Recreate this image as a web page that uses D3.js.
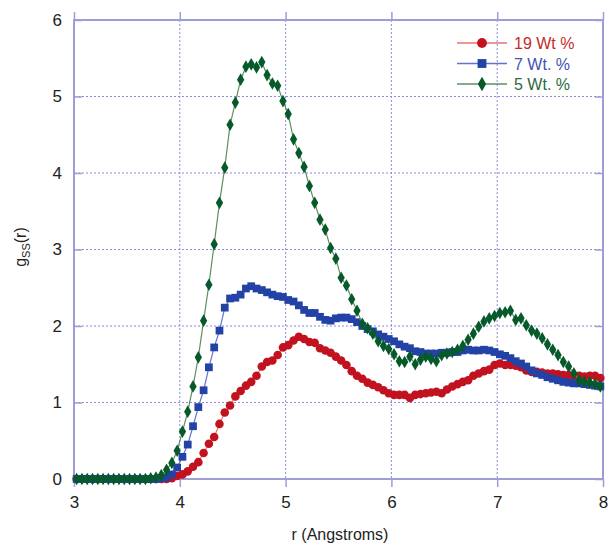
<!DOCTYPE html>
<html>
<head>
<meta charset="utf-8">
<script src="https://cdn.jsdelivr.net/npm/d3@7"></script>
<style>
  body { margin: 0; background: #fff; }
  svg { font-family: "Liberation Sans", Arial, sans-serif; }
</style>
</head>
<body>
<div id="chart"></div>
<script>
// r grid: bin centres, 0.05 A apart, from 3.025 to 7.975
const rValues = d3.range(100).map(i => +(3.025 + i * 0.05).toFixed(3));

const wt19 = [
    0, 0, 0, 0, 0, 0, 0, 0, 0, 0, 0, 0, 0, 0, 0, 0, 0, 0,
    0.01, 0.04, 0.06, 0.10, 0.16, 0.22, 0.34, 0.46, 0.55, 0.72,
    0.87, 0.96, 1.08, 1.15, 1.22, 1.27, 1.35, 1.47, 1.53, 1.55,
    1.62, 1.72, 1.75, 1.81, 1.86, 1.83, 1.79, 1.78, 1.71, 1.68,
    1.65, 1.60, 1.55, 1.49, 1.41, 1.35, 1.31, 1.26, 1.23, 1.20,
    1.16, 1.12, 1.10, 1.10, 1.10, 1.06, 1.10, 1.11, 1.12, 1.13,
    1.14, 1.12, 1.17, 1.21, 1.24, 1.27, 1.29, 1.35, 1.38, 1.41,
    1.43, 1.49, 1.51, 1.49, 1.49, 1.48, 1.46, 1.42, 1.40, 1.40,
    1.39, 1.38, 1.38, 1.37, 1.36, 1.36, 1.35, 1.35, 1.34, 1.35,
    1.35, 1.32
];

const wt7 = [
    0, 0, 0, 0, 0, 0, 0, 0, 0, 0, 0, 0, 0, 0, 0, 0,
    0.01, 0.02, 0.06, 0.15, 0.29, 0.45,
    0.69, 0.94, 1.16, 1.46, 1.72, 1.94, 2.24, 2.36, 2.37, 2.41,
    2.49, 2.52, 2.49, 2.47, 2.44, 2.41, 2.39, 2.38, 2.34, 2.32,
    2.27, 2.21, 2.17, 2.17, 2.12, 2.08, 2.07, 2.10, 2.11, 2.11,
    2.09, 2.05, 2.00, 1.96, 1.93, 1.89, 1.86, 1.83, 1.80, 1.76,
    1.73, 1.71, 1.67, 1.66, 1.64, 1.64, 1.64, 1.65, 1.65, 1.66,
    1.66, 1.68, 1.69, 1.68, 1.68, 1.69, 1.68, 1.66, 1.63, 1.61,
    1.58, 1.54, 1.51, 1.47, 1.42, 1.38, 1.36, 1.33, 1.31, 1.29,
    1.27, 1.26, 1.25, 1.25, 1.24, 1.23, 1.22, 1.21
];

const wt5 = [
    0, 0, 0, 0, 0, 0, 0, 0, 0, 0, 0, 0, 0, 0,
    0.01, 0.02,
    0.05, 0.12, 0.21, 0.37, 0.62, 0.88, 1.21, 1.59, 2.07, 2.54,
    3.07, 3.61, 4.07, 4.63, 4.92, 5.22, 5.39, 5.42, 5.38, 5.45,
    5.28, 5.17, 5.14, 4.94, 4.77, 4.44, 4.26, 4.08, 3.83, 3.61,
    3.39, 3.26, 3.02, 2.88, 2.63, 2.53, 2.35, 2.20, 2.03, 1.97,
    1.90, 1.80, 1.74, 1.70, 1.63, 1.54, 1.53, 1.60, 1.50, 1.56,
    1.60, 1.57, 1.54, 1.62, 1.64, 1.66, 1.69, 1.74, 1.82, 1.90,
    1.99, 2.06, 2.10, 2.13, 2.17, 2.18, 2.20, 2.08, 2.10, 2.01,
    1.94, 1.90, 1.84, 1.76, 1.69, 1.62, 1.53, 1.47, 1.38, 1.29,
    1.27, 1.26, 1.24, 1.21
];

const xTicks = [3, 4, 5, 6, 7, 8];
const yTicks = [0, 1, 2, 3, 4, 5, 6];

const series = [
    { name: "19 Wt %", values: wt19, marker: "#c2121f", line: "#e57373", text: "#c42a2a", symbol: d3.symbolCircle, size: 58 },
    { name: "7 Wt. %", values: wt7, marker: "#2342a6", line: "#6272cf", text: "#4352b0", symbol: d3.symbolSquare, size: 60 },
    { name: "5 Wt. %", values: wt5, marker: "#065a2a", line: "#5f8f62", text: "#2b6a3a", symbol: d3.symbolDiamond, size: 46 }
];

const W = 609, H = 544;
const margin = { top: 20, right: 6, bottom: 65, left: 74 };
const width = W - margin.left - margin.right;
const height = H - margin.top - margin.bottom;

const svg = d3.select('#chart').append('svg')
    .attr('width', W)
    .attr('height', H);

const g = svg.append('g')
    .attr('transform', `translate(${margin.left},${margin.top})`);

const x = d3.scaleLinear().domain([3, 8]).range([0, width]);
const y = d3.scaleLinear().domain([0, 6]).range([height, 0]);

const gridColor = "#8a8ade";
const axisColor = "#9d9dd8";

// dotted grid
g.selectAll('.vgrid')
    .data(xTicks.slice(1, -1))
    .enter().append('line')
    .attr('x1', d => x(d)).attr('x2', d => x(d))
    .attr('y1', 0).attr('y2', height)
    .attr('stroke', gridColor)
    .attr('stroke-width', 1)
    .attr('stroke-dasharray', '2,2');

g.selectAll('.hgrid')
    .data(yTicks.slice(1, -1))
    .enter().append('line')
    .attr('x1', 0).attr('x2', width)
    .attr('y1', d => y(d)).attr('y2', d => y(d))
    .attr('stroke', gridColor)
    .attr('stroke-width', 1)
    .attr('stroke-dasharray', '2,2');

// frame
g.append('rect')
    .attr('x', 0).attr('y', 0)
    .attr('width', width).attr('height', height)
    .attr('fill', 'none')
    .attr('stroke', axisColor)
    .attr('stroke-width', 2);

// ticks: x outward top and bottom, y inward left and right
const xAxisB = d3.axisBottom(x).tickValues(xTicks).tickSize(8).tickPadding(9).tickFormat(d3.format('d'));
const xAxisT = d3.axisTop(x).tickValues(xTicks).tickSize(8).tickFormat('');
const yAxisL = d3.axisLeft(y).tickValues(yTicks).tickSize(-8).tickPadding(12).tickFormat(d3.format('d'));
const yAxisR = d3.axisRight(y).tickValues(yTicks).tickSize(-8).tickFormat('');

function styleAxis(sel) {
    sel.select('.domain').remove();
    sel.selectAll('.tick line').attr('stroke', axisColor).attr('stroke-width', 1.5);
    sel.selectAll('.tick text').attr('fill', '#222').style('font-size', '17px');
}

g.append('g').attr('transform', `translate(0,${height})`).call(xAxisB).call(styleAxis);
g.append('g').call(xAxisT).call(styleAxis);
g.append('g').call(yAxisL).call(styleAxis);
g.append('g').attr('transform', `translate(${width},0)`).call(yAxisR).call(styleAxis);

// lines + markers
const line = d3.line()
    .x((d, i) => x(rValues[i]))
    .y(d => y(d));

series.forEach(s => {
    g.append('path')
        .datum(s.values)
        .attr('fill', 'none')
        .attr('stroke', s.line)
        .attr('stroke-width', 1.2)
        .attr('d', line);

    g.selectAll(null)
        .data(s.values)
        .enter().append('path')
        .attr('transform', (d, i) => `translate(${x(rValues[i])},${y(d)})`)
        .attr('d', d3.symbol().type(s.symbol).size(s.size))
        .attr('fill', s.marker);
});

// legend
const legend = g.append('g').attr('transform', `translate(${457 - margin.left},${43 - margin.top})`);
series.forEach((s, k) => {
    const row = legend.append('g').attr('transform', `translate(0,${k * 20.5})`);
    row.append('line')
        .attr('x1', 0).attr('x2', 50)
        .attr('stroke', s.line).attr('stroke-width', 1.5);
    row.append('path')
        .attr('transform', 'translate(25,0)')
        .attr('d', d3.symbol().type(s.symbol).size(s.size * 1.3))
        .attr('fill', s.marker);
    row.append('text')
        .attr('x', 57).attr('y', 6)
        .attr('fill', s.text)
        .style('font-size', '16px')
        .text(s.name);
});

// axis titles
svg.append('text')
    .attr('x', 340)
    .attr('y', 540)
    .attr('text-anchor', 'middle')
    .attr('fill', '#222')
    .style('font-size', '16px')
    .text('r (Angstroms)');

const yt = svg.append('text')
    .attr('transform', 'translate(26,247) rotate(-90)')
    .attr('text-anchor', 'middle')
    .attr('fill', '#222')
    .style('font-size', '16px');
yt.append('tspan').text('g');
yt.append('tspan').attr('dy', 4).style('font-size', '11px').text('SS');
yt.append('tspan').attr('dy', -4).text('(r)');
</script>
</body>
</html>
